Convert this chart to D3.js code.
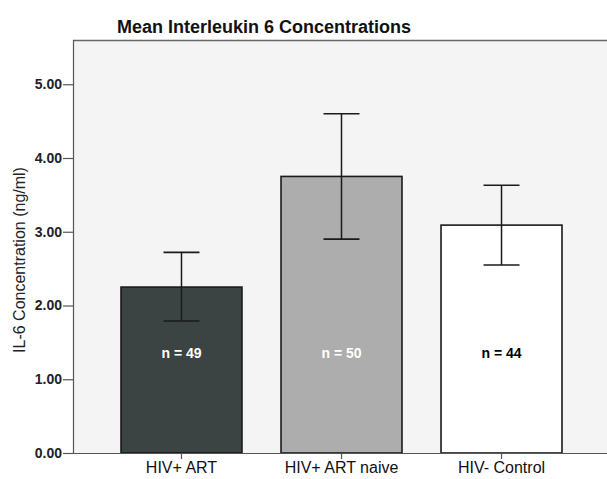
<!DOCTYPE html>
<html><head><meta charset="utf-8">
<script src="https://cdn.jsdelivr.net/npm/d3@7"></script>
<style>body{margin:0;background:#fff}svg{display:block}text{font-family:"Liberation Sans",Arial,sans-serif}</style>
</head><body><svg id="c" width="607" height="479"></svg>
<script>
const categories = ["HIV+ ART", "HIV+ ART naive", "HIV- Control"];
const means = [2.25, 3.75, 3.09];
const ciLow = [1.79, 2.90, 2.55];
const ciHigh = [2.72, 4.60, 3.63];
const nLabels = ["n = 49", "n = 50", "n = 44"];
const yTicks = [0, 1, 2, 3, 4, 5];
const colors = ["#3b4443", "#adadad", "#ffffff"];
const nColors = ["#ffffff", "#ffffff", "#000000"];

const svg = d3.select("#c");
const L = 73, R = 607, T = 40, B = 453;
const y = d3.scaleLinear().domain([0, 5.6]).range([B, T]);
const x = d3.scaleBand().domain(categories).range([L, 610]).paddingInner(0.244).paddingOuter(0.3);

svg.append("rect").attr("x", L).attr("y", T).attr("width", R - L).attr("height", B - T)
  .attr("fill", "#f4f4f4");
svg.append("line").attr("x1", L).attr("x2", R).attr("y1", T + 0.5).attr("y2", T + 0.5)
  .attr("stroke", "#666").attr("stroke-width", 1.5);

const g = svg.append("g");
g.selectAll("rect.bar").data(categories).join("rect").attr("class", "bar")
  .attr("x", d => x(d)).attr("width", x.bandwidth())
  .attr("y", (d, i) => y(means[i])).attr("height", (d, i) => B - y(means[i]))
  .attr("fill", (d, i) => colors[i]).attr("stroke", "#1a1a1a").attr("stroke-width", 1.6);

const cw = 18;
categories.forEach((d, i) => {
  const cx = x(d) + x.bandwidth() / 2;
  g.append("line").attr("x1", cx).attr("x2", cx).attr("y1", y(ciLow[i])).attr("y2", y(ciHigh[i]))
    .attr("stroke", "#1a1a1a").attr("stroke-width", 1.5);
  [ciLow[i], ciHigh[i]].forEach(v => {
    g.append("line").attr("x1", cx - cw).attr("x2", cx + cw).attr("y1", y(v)).attr("y2", y(v))
      .attr("stroke", "#1a1a1a").attr("stroke-width", 1.6);
  });
  g.append("text").attr("x", cx).attr("y", 358).attr("text-anchor", "middle")
    .attr("font-size", 14).attr("font-weight", "bold").attr("fill", nColors[i]).text(nLabels[i]);
});

// y axis
const ya = svg.append("g").attr("transform", `translate(${L},0)`)
  .call(d3.axisLeft(y).tickValues(yTicks).tickFormat(d3.format(".2f")).tickSize(10).tickPadding(1));
ya.select(".domain").attr("stroke", "#555").attr("stroke-width", 1.2).attr("d", `M0.5,${T}V${B}`);
ya.selectAll(".tick line").attr("stroke", "#555").attr("stroke-width", 1.2);
ya.selectAll(".tick text").attr("font-size", 14).attr("font-weight", "bold").attr("fill", "#222")
  .style("font-family", '"Liberation Sans",Arial,sans-serif');

// x axis
const xa = svg.append("g").attr("transform", `translate(0,${B})`)
  .call(d3.axisBottom(x).tickSize(6).tickPadding(3));
xa.select(".domain").attr("stroke", "#555").attr("stroke-width", 1.2).attr("d", `M${L},0.5H${R}`);
xa.selectAll(".tick line").attr("stroke", "#555").attr("stroke-width", 1.2);
xa.selectAll(".tick text").attr("font-size", 16).attr("fill", "#111")
  .style("font-family", '"Liberation Sans",Arial,sans-serif');

svg.append("text").attr("x", 264).attr("y", 33).attr("text-anchor", "middle")
  .attr("font-size", 18).attr("font-weight", "bold").attr("fill", "#111")
  .text("Mean Interleukin 6 Concentrations");
svg.append("text").attr("transform", `translate(25,260) rotate(-90)`)
  .attr("text-anchor", "middle").attr("font-size", 16).attr("fill", "#222")
  .text("IL-6 Concentration (ng/ml)");
</script></body></html>
